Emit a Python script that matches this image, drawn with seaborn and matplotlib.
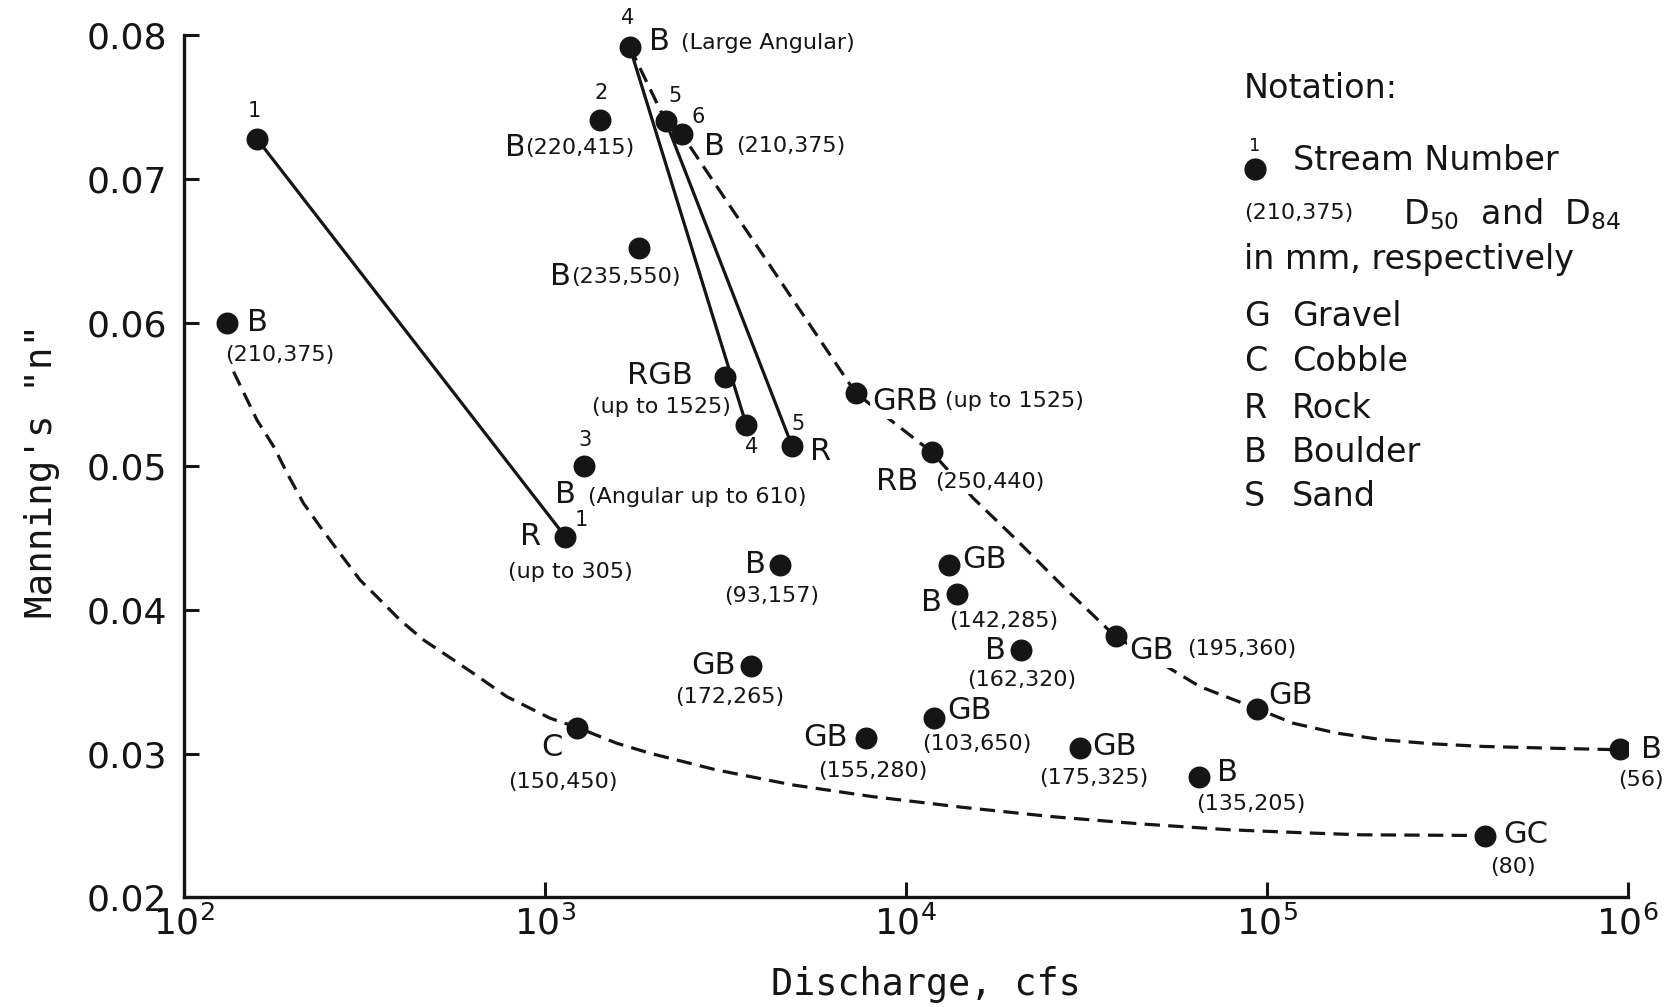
import matplotlib
matplotlib.use("Agg")
import matplotlib.pyplot as plt
import seaborn as sns
import pandas as pd
from matplotlib.ticker import FixedLocator, FormatStrFormatter, LogFormatterMathtext, NullLocator

# ---------------- data ----------------
discharge_cfs = [159, 131, 1419, 1716, 2161, 2394, 1820, 3151, 3610, 4840,
                 1279, 1138, 7260, 11780, 4470, 13130, 13830, 38100, 20900, 3715,
                 94100, 12000, 1223, 7730, 30400, 951000, 64900, 402000]
manning_n = [0.0728, 0.0600, 0.0741, 0.0792, 0.0740, 0.0731, 0.0652, 0.0562, 0.0529, 0.0514,
             0.0500, 0.0451, 0.0551, 0.0510, 0.0431, 0.0431, 0.0411, 0.0382, 0.0372, 0.0361,
             0.0331, 0.0325, 0.0318, 0.0311, 0.0304, 0.0303, 0.0284, 0.0243]
bed_material = ["", "B", "B", "B", "", "B", "B", "RGB", "", "R",
                "B", "R", "GRB", "RB", "B", "GB", "B", "GB", "B", "GB",
                "GB", "GB", "C", "GB", "GB", "B", "B", "GC"]
grain_sizes = ["", "(210,375)", "(220,415)", "(Large Angular)", "", "(210,375)", "(235,550)",
               "(up to 1525)", "", "", "(Angular up to 610)", "(up to 305)", "(up to 1525)",
               "(250,440)", "(93,157)", "", "(142,285)", "(195,360)", "(162,320)", "(172,265)",
               "", "(103,650)", "(150,450)", "(155,280)", "(175,325)", "(56)", "(135,205)", "(80)"]
stream_number = ["1", "", "2", "4", "5", "6", "", "", "4", "5",
                 "3", "1", "", "", "", "", "", "", "", "",
                 "", "", "", "", "", "", "", ""]

# solid lines join the two states of streams 1, 4 and 5 (index pairs into the arrays)
stream_links = [(0, 11), (3, 8), (4, 9)]

# dashed envelope curves
upper_curve_q = [1716, 2161, 2394, 7260, 11780, 15370, 20260, 27290, 38100,
                 52800, 65250, 94100, 118300, 156100, 210200, 289000, 397800, 608000, 951000]
upper_curve_n = [0.0792, 0.0740, 0.0731, 0.0551, 0.0510, 0.04778, 0.04488, 0.04163, 0.03815,
                 0.03606, 0.03467, 0.03312, 0.03212, 0.03143, 0.03096, 0.03068, 0.0305, 0.03038, 0.03027]
lower_curve_q = [137, 159, 177, 194, 214, 238, 270, 307, 349, 396, 460, 557, 632, 783, 1032,
                 1223, 1578, 1945, 2979, 4834, 8070, 14280, 25250, 44600, 78800, 123600, 181600, 402000]
lower_curve_n = [0.05659, 0.05323, 0.05137, 0.0494, 0.04743, 0.0458, 0.04395, 0.04209, 0.0407,
                 0.03931, 0.03792, 0.03653, 0.0356, 0.03397, 0.03247, 0.03184, 0.03073, 0.03004,
                 0.02887, 0.02783, 0.02701, 0.02627, 0.02562, 0.02511, 0.0247, 0.0245, 0.02435, 0.0243]

x_ticks = [1e2, 1e3, 1e4, 1e5, 1e6]
y_ticks = [0.02, 0.03, 0.04, 0.05, 0.06, 0.07, 0.08]

notation_title = "Notation:"
notation_stream = "Stream Number"
notation_example = "(210,375)"
notation_d = r"$\mathregular{D_{50}}$  and  $\mathregular{D_{84}}$"
notation_units = "in mm, respectively"
notation_codes = ["G", "C", "R", "B", "S"]
notation_names = ["Gravel", "Cobble", "Rock", "Boulder", "Sand"]

# ---------------- layout (label offsets in reference pixels) ----------------
S = 1679 / 1568
main_off = [None, (29, 0), (-79, -26), (28, 5), None, (30, -11), (-73, -27), (-61, 2), None, (27, -5),
            (-17, -26), (-32, 0), (46, -8), (-32, -28), (-23, 1), (34, 6), (-24, -8), (34, -14), (-24, 0), (-35, 0),
            (31, 13), (33, 7), (-23, -18), (-37, 0), (32, 1), (30, 0), (27, 4), (38, 1)]
# (dx, dy, ha)
paren_off = [None, (50, -30, "center"), (-70, -26, "left"), (48, 4, "left"), None, (51, -11, "left"),
             (-63, -27, "left"), (-59, -28, "center"), None, None, (4, -29, "left"), (5, -33, "center"),
             (83, -7, "left"), (3, -28, "left"), (-8, -29, "center"), None, (44, -25, "center"),
             (67, -12, "left"), (0, -28, "center"), (-20, -29, "center"), None, (40, -25, "center"),
             (-13, -51, "center"), (7, -31, "center"), (13, -28, "center"), (20, -29, "center"),
             (48, -26, "center"), (26, -29, "center")]
num_off = [(-2, 26), None, (1, 25), (-2, 27), (9, 24), (15, 16), None, None, (5, -21), (5, 21),
           (1, 25), (15, 16)] + [None] * 16

W, H = 1679, 1007
sns.set_style("white")
plt.rcParams["font.family"] = ["DejaVu Sans"]
plt.rcParams["mathtext.default"] = "regular"

fig = plt.figure(figsize=(W / 100, H / 100), dpi=100)
ax = fig.add_axes([184.2 / W, 1 - 897.3 / H, (1627.6 - 184.2) / W, (897.3 - 35.3) / H])
ax.set_xscale("log")

ink = "#151515"
dash = (0, (4.8, 2.6))
box = dict(boxstyle="square,pad=0.08", fc="white", ec="none")

sns.lineplot(x=upper_curve_q, y=upper_curve_n, ax=ax, color=ink, lw=2.3,
             linestyle=dash, estimator=None, sort=False, zorder=2)
sns.lineplot(x=lower_curve_q, y=lower_curve_n, ax=ax, color=ink, lw=2.3,
             linestyle=dash, estimator=None, sort=False, zorder=2)
for a, b in stream_links:
    sns.lineplot(x=[discharge_cfs[a], discharge_cfs[b]], y=[manning_n[a], manning_n[b]],
                 ax=ax, color=ink, lw=2.3, estimator=None, sort=False, zorder=2)

df = pd.DataFrame({"Q": discharge_cfs, "n": manning_n})
sns.scatterplot(data=df, x="Q", y="n", ax=ax, s=250, color=ink, linewidth=0, zorder=5)

for i in range(len(discharge_cfs)):
    xy = (discharge_cfs[i], manning_n[i])
    if main_off[i] is not None and bed_material[i]:
        dx, dy = main_off[i]
        ax.annotate(bed_material[i], xy, xytext=(dx * S, dy * S), textcoords="offset pixels",
                    ha="center", va="center", fontsize=22, color=ink, annotation_clip=False,
                    bbox=box, zorder=4)
    if paren_off[i] is not None and grain_sizes[i]:
        dx, dy, ha = paren_off[i]
        ax.annotate(grain_sizes[i], xy, xytext=(dx * S, dy * S), textcoords="offset pixels",
                    ha=ha, va="center", fontsize=16, color=ink, annotation_clip=False,
                    bbox=box, zorder=4)
    if num_off[i] is not None and stream_number[i]:
        dx, dy = num_off[i]
        ax.annotate(stream_number[i], xy, xytext=(dx * S, dy * S), textcoords="offset pixels",
                    ha="center", va="center", fontsize=15, color=ink, annotation_clip=False,
                    zorder=4)

ax.set_xlim(x_ticks[0], x_ticks[-1])
ax.set_ylim(y_ticks[0], y_ticks[-1])
ax.xaxis.set_major_locator(FixedLocator(x_ticks))
ax.xaxis.set_major_formatter(LogFormatterMathtext())
ax.xaxis.set_minor_locator(NullLocator())
ax.yaxis.set_major_locator(FixedLocator(y_ticks))
ax.yaxis.set_major_formatter(FormatStrFormatter("%.2f"))
ax.tick_params(axis="both", which="major", direction="in", length=11, width=2.2, color=ink,
               labelsize=26, labelcolor=ink, bottom=True, left=True, top=False, right=False)
ax.tick_params(axis="x", pad=6)
ax.tick_params(axis="y", pad=12)
for side in ["top", "right"]:
    ax.spines[side].set_visible(False)
for side in ["left", "bottom"]:
    ax.spines[side].set_linewidth(2.4)
    ax.spines[side].set_color(ink)

ax.set_xlabel("Discharge, cfs", fontsize=26.5, family="DejaVu Sans Mono", color=ink)
ax.set_ylabel('Manning\'s "n"', fontsize=27, family="DejaVu Sans Mono", color=ink)
ax.xaxis.set_label_coords(0.514, -0.080)
ax.yaxis.set_label_coords(-0.086, 0.495)
ax.grid(False)

def ft(x, y, s, **kw):
    fig.text(x / W, 1 - y / H, s, color=ink, **kw)

ft(1244, 89, notation_title, fontsize=24, ha="left", va="center")
ax.plot([1255 / W], [1 - 169 / H], "o", ms=15, color=ink, mec=ink,
        transform=fig.transFigure, clip_on=False)
ft(1255, 146, "1", fontsize=13, ha="center", va="center")
ft(1293, 161, notation_stream, fontsize=24, ha="left", va="center")
ft(1244, 213, notation_example, fontsize=16, ha="left", va="center")
ft(1403, 224, notation_d, fontsize=24, ha="left", va="baseline")
ft(1244, 259, notation_units, fontsize=24, ha="left", va="center")
for k, (c, nm) in enumerate(zip(notation_codes, notation_names)):
    y = [316, 362, 408, 452, 497][k]
    ft(1244, y, c, fontsize=24, ha="left", va="center")
    ft(1292, y, nm, fontsize=24, ha="left", va="center")

fig.savefig("out.png", dpi=100, facecolor="white")
